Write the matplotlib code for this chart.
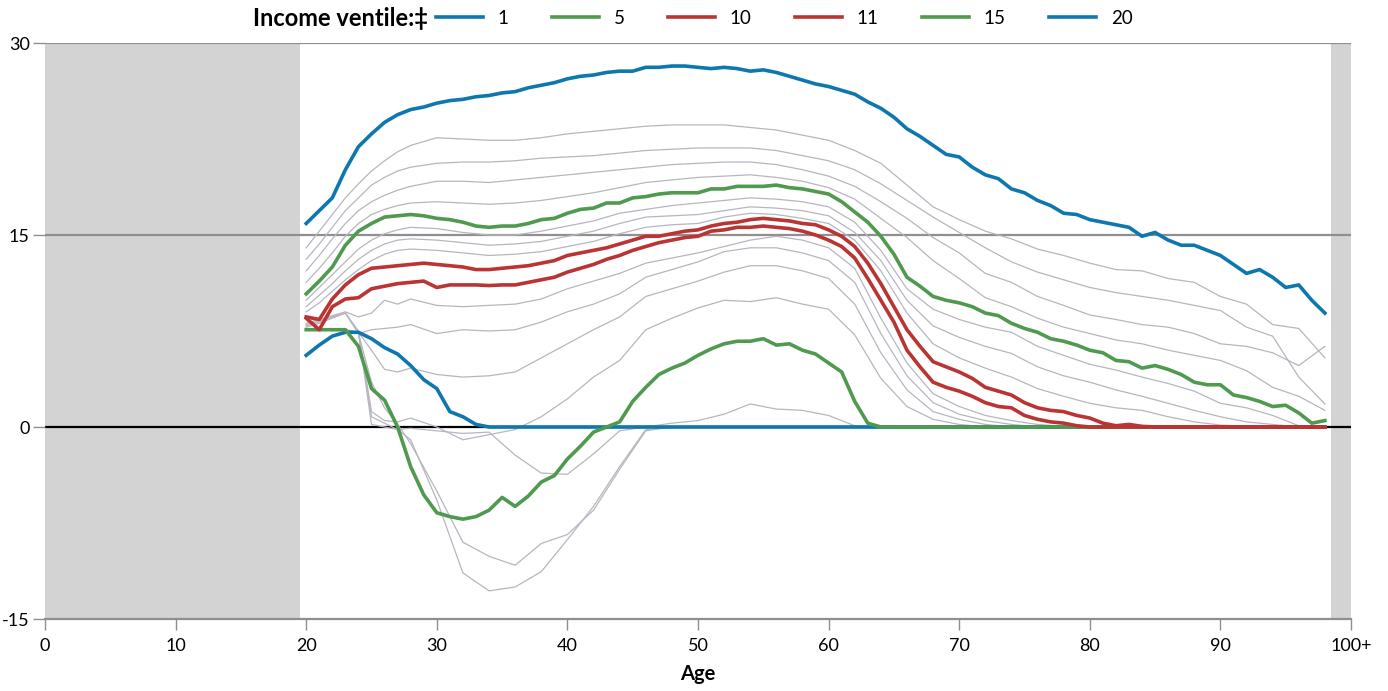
import matplotlib
matplotlib.use("Agg")
import matplotlib.pyplot as plt

plt.rcParams['font.family'] = ['Lato', 'DejaVu Sans']
plt.rcParams['axes.unicode_minus'] = False

# highlighted ventiles, one value per year of age
ages = [20, 21, 22, 23, 24, 25, 26, 27, 28, 29, 30, 31, 32, 33, 34, 35, 36, 37, 38, 39,
        40, 41, 42, 43, 44, 45, 46, 47, 48, 49, 50, 51, 52, 53, 54, 55, 56, 57, 58, 59,
        60, 61, 62, 63, 64, 65, 66, 67, 68, 69, 70, 71, 72, 73, 74, 75, 76, 77, 78, 79,
        80, 81, 82, 83, 84, 85, 86, 87, 88, 89, 90, 91, 92, 93, 94, 95, 96, 97, 98]

v1 = [5.6, 6.4, 7.1, 7.4, 7.4, 6.9, 6.2, 5.7, 4.8, 3.7, 3.0, 1.2, 0.8, 0.2, 0.0, 0.0, 0.0, 0.0, 0.0, 0.0,
      0.0, 0.0, 0.0, 0.0, 0.0, 0.0, 0.0, 0.0, 0.0, 0.0, 0.0, 0.0, 0.0, 0.0, 0.0, 0.0, 0.0, 0.0, 0.0, 0.0,
      0.0, 0.0, 0.0, 0.0, 0.0, 0.0, 0.0, 0.0, 0.0, 0.0, 0.0, 0.0, 0.0, 0.0, 0.0, 0.0, 0.0, 0.0, 0.0, 0.0,
      0.0, 0.0, 0.0, 0.0, 0.0, 0.0, 0.0, 0.0, 0.0, 0.0, 0.0, 0.0, 0.0, 0.0, 0.0, 0.0, 0.0, 0.0, 0.0]
v5 = [7.6, 7.6, 7.6, 7.6, 6.3, 3.0, 2.1, 0.0, -3.1, -5.3, -6.7, -7.0, -7.2, -7.0, -6.5, -5.5, -6.2, -5.4, -4.3, -3.8,
      -2.5, -1.5, -0.4, 0.0, 0.4, 2.0, 3.1, 4.1, 4.6, 5.0, 5.6, 6.1, 6.5, 6.7, 6.7, 6.9, 6.4, 6.5, 6.0, 5.7,
      5.0, 4.3, 2.0, 0.3, 0.0, 0.0, 0.0, 0.0, 0.0, 0.0, 0.0, 0.0, 0.0, 0.0, 0.0, 0.0, 0.0, 0.0, 0.0, 0.0,
      0.0, 0.0, 0.0, 0.0, 0.0, 0.0, 0.0, 0.0, 0.0, 0.0, 0.0, 0.0, 0.0, 0.0, 0.0, 0.0, 0.0, 0.0, 0.0]
v10 = [8.5, 7.6, 9.4, 10.0, 10.1, 10.8, 11.0, 11.2, 11.3, 11.4, 10.9, 11.1, 11.1, 11.1, 11.05, 11.1, 11.1, 11.3, 11.5, 11.7,
       12.1, 12.4, 12.7, 13.1, 13.4, 13.8, 14.1, 14.4, 14.6, 14.8, 14.9, 15.3, 15.4, 15.6, 15.6, 15.7, 15.6, 15.5, 15.3, 15.0,
       14.6, 14.1, 13.2, 11.6, 9.9, 8.2, 6.0, 4.7, 3.5, 3.1, 2.8, 2.4, 1.9, 1.6, 1.5, 0.9, 0.6, 0.4, 0.3, 0.1,
       0.0, 0.0, 0.0, 0.0, 0.0, 0.0, 0.0, 0.0, 0.0, 0.0, 0.0, 0.0, 0.0, 0.0, 0.0, 0.0, 0.0, 0.0, 0.0]
v11 = [8.6, 8.4, 10.0, 11.1, 11.9, 12.4, 12.5, 12.6, 12.7, 12.8, 12.7, 12.6, 12.5, 12.3, 12.3, 12.4, 12.5, 12.6, 12.8, 13.0,
       13.4, 13.6, 13.8, 14.0, 14.3, 14.6, 14.9, 14.9, 15.1, 15.3, 15.4, 15.7, 15.9, 16.0, 16.2, 16.3, 16.2, 16.1, 15.9, 15.8,
       15.4, 14.9, 14.1, 12.8, 11.2, 9.4, 7.6, 6.3, 5.1, 4.7, 4.3, 3.8, 3.1, 2.8, 2.5, 1.9, 1.5, 1.3, 1.2, 0.9,
       0.7, 0.3, 0.1, 0.2, 0.05, 0.0, 0.0, 0.0, 0.0, 0.0, 0.0, 0.0, 0.0, 0.0, 0.0, 0.0, 0.0, 0.0, 0.0]
v15 = [10.4, 11.4, 12.5, 14.2, 15.3, 15.9, 16.4, 16.5, 16.6, 16.5, 16.3, 16.2, 16.0, 15.7, 15.6, 15.7, 15.7, 15.9, 16.2, 16.3,
       16.7, 17.0, 17.1, 17.5, 17.5, 17.9, 18.0, 18.2, 18.3, 18.3, 18.3, 18.6, 18.6, 18.8, 18.8, 18.8, 18.9, 18.7, 18.6, 18.4,
       18.2, 17.6, 16.8, 16.0, 14.9, 13.5, 11.7, 11.0, 10.2, 9.9, 9.7, 9.4, 8.9, 8.7, 8.1, 7.7, 7.4, 6.9, 6.7, 6.4,
       6.0, 5.8, 5.2, 5.1, 4.6, 4.8, 4.5, 4.1, 3.5, 3.3, 3.3, 2.5, 2.3, 2.0, 1.6, 1.7, 1.1, 0.3, 0.5]
v20 = [15.9, 16.9, 17.9, 20.1, 21.9, 22.9, 23.8, 24.4, 24.8, 25.0, 25.3, 25.5, 25.6, 25.8, 25.9, 26.1, 26.2, 26.5, 26.7, 26.9,
       27.2, 27.4, 27.5, 27.7, 27.8, 27.8, 28.1, 28.1, 28.2, 28.2, 28.1, 28.0, 28.1, 28.0, 27.8, 27.9, 27.7, 27.4, 27.1, 26.8,
       26.6, 26.3, 26.0, 25.4, 24.9, 24.2, 23.3, 22.7, 22.0, 21.3, 21.1, 20.3, 19.7, 19.4, 18.6, 18.3, 17.7, 17.3, 16.7, 16.6,
       16.2, 16.0, 15.8, 15.6, 14.9, 15.2, 14.6, 14.2, 14.2, 13.8, 13.4, 12.7, 12.0, 12.3, 11.7, 10.9, 11.1, 9.9, 8.9]

# other ventiles (thin grey), read at a coarser age grid
grey_ages = [20, 21, 22, 23, 24, 25, 26, 27, 28, 30, 32, 34, 36, 38, 40, 42, 44, 46, 48, 50, 52, 54,
             56, 58, 60, 62, 64, 66, 68, 70, 72, 74, 76, 78, 80, 82, 84, 86, 88, 90, 92, 94, 96, 98]

v2 = [7.6, 7.6, 7.6, 7.6, 7.4, 0.8, 0.3, -0.2, -1.0, -5.7, -11.4, -12.8, -12.5, -11.3, -8.8, -6.2, -3.1, -0.2, 0.0, 0.0, 0.0, 0.0,
      0.0, 0.0, 0.0, 0.0, 0.0, 0.0, 0.0, 0.0, 0.0, 0.0, 0.0, 0.0, 0.0, 0.0, 0.0, 0.0, 0.0, 0.0, 0.0, 0.0, 0.0, 0.0]
v3 = [7.6, 7.6, 7.6, 7.6, 7.3, 3.5, 1.5, 0.2, -1.3, -5.0, -9.0, -10.1, -10.8, -9.1, -8.4, -6.5, -3.3, -0.3, 0.0, 0.0, 0.0, 0.0,
      0.0, 0.0, 0.0, 0.0, 0.0, 0.0, 0.0, 0.0, 0.0, 0.0, 0.0, 0.0, 0.0, 0.0, 0.0, 0.0, 0.0, 0.0, 0.0, 0.0, 0.0, 0.0]
v4 = [7.6, 7.6, 7.6, 7.6, 7.4, 0.2, 0.0, -0.2, -0.1, -0.3, -0.5, -0.4, -2.2, -3.6, -3.7, -2.1, -0.3, 0.0, 0.3, 0.5, 1.0, 1.8,
      1.4, 1.3, 0.9, 0.1, 0.0, 0.0, 0.0, 0.0, 0.0, 0.0, 0.0, 0.0, 0.0, 0.0, 0.0, 0.0, 0.0, 0.0, 0.0, 0.0, 0.0, 0.0]
v6 = [7.8, 8.1, 8.5, 8.9, 7.5, 1.2, 0.5, 0.4, 0.7, 0.0, -1.0, -0.6, -0.2, 0.8, 2.2, 3.9, 5.2, 7.6, 8.5, 9.3, 9.9, 9.8,
      10.1, 9.6, 9.2, 7.2, 3.8, 1.6, 0.6, 0.2, 0.0, 0.0, 0.0, 0.0, 0.0, 0.0, 0.0, 0.0, 0.0, 0.0, 0.0, 0.0, 0.0, 0.0]
v7 = [7.9, 8.2, 8.6, 8.9, 7.4, 6.0, 4.5, 4.3, 4.6, 4.1, 3.9, 4.0, 4.3, 5.4, 6.5, 7.6, 8.6, 10.2, 10.8, 11.4, 12.1, 12.6,
      12.6, 12.2, 11.6, 9.6, 5.8, 2.9, 1.2, 0.6, 0.2, 0.0, 0.0, 0.0, 0.0, 0.0, 0.0, 0.0, 0.0, 0.0, 0.0, 0.0, 0.0, 0.0]
v8 = [8.0, 8.3, 8.6, 8.9, 7.3, 7.6, 7.7, 7.8, 8.0, 7.3, 7.6, 7.5, 7.6, 8.2, 9.0, 9.6, 10.4, 11.7, 12.3, 12.9, 13.7, 14.0,
      14.0, 13.6, 13.0, 11.3, 7.3, 4.0, 1.9, 1.0, 0.5, 0.2, 0.0, 0.0, 0.0, 0.0, 0.0, 0.0, 0.0, 0.0, 0.0, 0.0, 0.0, 0.0]
v9 = [8.1, 8.4, 8.7, 9.0, 8.6, 8.9, 9.9, 9.6, 10.0, 9.5, 9.4, 9.5, 9.6, 10.0, 10.8, 11.4, 12.0, 12.8, 13.2, 13.6, 14.1, 14.6,
      14.9, 14.6, 14.0, 12.4, 8.5, 5.0, 2.6, 1.6, 0.9, 0.5, 0.2, 0.05, 0.0, 0.0, 0.0, 0.0, 0.0, 0.0, 0.0, 0.0, 0.0, 0.0]
v12 = [9.0, 9.7, 10.6, 11.5, 12.3, 13.0, 13.5, 13.8, 13.9, 13.8, 13.6, 13.4, 13.5, 13.7, 14.1, 14.5, 15.1, 15.6, 15.8, 15.9, 16.4, 16.7,
       16.6, 16.3, 15.9, 14.6, 12.2, 8.9, 6.5, 5.4, 4.6, 3.9, 3.0, 2.4, 1.85, 1.5, 1.3, 0.8, 0.4, 0.15, 0.05, 0.0, 0.0, 0.0]
v13 = [9.4, 10.3, 11.2, 12.2, 13.1, 13.8, 14.3, 14.6, 14.7, 14.6, 14.4, 14.2, 14.3, 14.5, 14.9, 15.3, 15.9, 16.4, 16.5, 16.6, 16.9, 17.2,
       17.1, 16.9, 16.5, 15.2, 13.0, 9.9, 7.9, 7.0, 6.3, 5.75, 4.7, 4.0, 3.5, 2.9, 2.4, 1.85, 1.3, 0.8, 0.4, 0.2, 0.0, 0.0]
v14 = [9.9, 10.9, 11.9, 12.9, 13.9, 14.6, 15.1, 15.4, 15.6, 15.5, 15.2, 15.0, 15.0, 15.3, 15.7, 16.1, 16.7, 17.0, 17.3, 17.5, 17.7, 17.9,
       17.8, 17.6, 17.2, 16.0, 13.8, 10.8, 9.2, 8.4, 7.8, 7.4, 6.3, 5.6, 4.9, 4.45, 3.9, 3.4, 2.8, 1.85, 1.5, 0.9, 0.1, 0.0]
v16 = [11.3, 12.4, 13.6, 14.9, 15.9, 16.6, 17.0, 17.3, 17.5, 17.6, 17.5, 17.4, 17.5, 17.7, 18.0, 18.3, 18.7, 19.1, 19.3, 19.5, 19.6, 19.7,
       19.5, 19.2, 18.7, 17.8, 16.3, 14.8, 13.0, 11.6, 10.1, 9.4, 8.5, 7.8, 7.3, 6.8, 6.5, 6.0, 5.6, 5.2, 4.4, 3.1, 2.4, 1.3]
v17 = [12.2, 13.4, 14.7, 15.9, 16.9, 17.6, 18.1, 18.5, 18.8, 19.2, 19.2, 19.1, 19.3, 19.5, 19.7, 19.9, 20.1, 20.3, 20.5, 20.6, 20.7, 20.7,
       20.5, 20.1, 19.6, 18.8, 17.6, 16.3, 14.8, 13.6, 12.0, 11.3, 10.2, 9.5, 8.75, 8.4, 8.0, 7.8, 7.3, 6.5, 6.3, 5.8, 4.8, 6.3]
v18 = [13.1, 14.3, 15.6, 16.9, 17.9, 18.9, 19.5, 20.0, 20.3, 20.6, 20.7, 20.7, 20.8, 21.0, 21.1, 21.2, 21.4, 21.6, 21.7, 21.8, 21.8, 21.8,
       21.6, 21.2, 20.8, 20.1, 19.0, 17.7, 16.4, 15.2, 14.0, 12.9, 12.1, 11.5, 10.9, 10.5, 10.2, 9.9, 9.5, 9.1, 7.8, 7.1, 3.9, 1.8]
v19 = [14.0, 15.3, 16.6, 17.9, 19.0, 20.0, 20.8, 21.5, 22.0, 22.6, 22.5, 22.4, 22.4, 22.6, 22.9, 23.1, 23.3, 23.5, 23.6, 23.6, 23.6, 23.4,
       23.2, 22.8, 22.4, 21.6, 20.6, 18.9, 17.2, 16.2, 15.3, 14.7, 13.9, 13.4, 12.8, 12.3, 12.2, 11.6, 11.3, 10.2, 9.6, 8.0, 7.7, 5.4]

BLUE = '#0e78ae'
GREEN = '#4f9a4f'
RED = '#bb3434'
GREY_LINE = '#b6b6c0'
SHADE = '#d3d3d3'
GRID = '#8f8f8f'

W, H = 1388, 691
fig = plt.figure(figsize=(W / 100, H / 100), dpi=100)
ax = fig.add_axes([45 / W, 1 - 619 / H, (1351 - 45) / W, (619 - 43) / H])

ax.axvspan(0, 19.5, color=SHADE, lw=0, zorder=0)
ax.axvspan(98.5, 100, color=SHADE, lw=0, zorder=0)
for yy in (15, 30):
    ax.axhline(yy, color=GRID, lw=1.6, zorder=1)
ax.axhline(0, color='black', lw=1.6, zorder=1)

for g in (v2, v3, v4, v6, v7, v8, v9, v12, v13, v14, v16, v17, v18, v19):
    ax.plot(grey_ages, g, color=GREY_LINE, lw=0.9, zorder=2)

handles = []
for vals, col, lab in ((v1, BLUE, '1'), (v5, GREEN, '5'), (v10, RED, '10'),
                       (v11, RED, '11'), (v15, GREEN, '15'), (v20, BLUE, '20')):
    ln, = ax.plot(ages, vals, color=col, lw=2.6, zorder=3, label=lab,
                  solid_joinstyle='round')
    handles.append(ln)

ax.set_xlim(0, 100)
ax.set_ylim(-15, 30)
ax.set_xticks(range(0, 101, 10))
ax.set_xticklabels(['0', '10', '20', '30', '40', '50', '60', '70', '80', '90', '100+'])
ax.set_yticks([-15, 0, 15, 30])
for s in ('left', 'right', 'top'):
    ax.spines[s].set_visible(False)
ax.spines['bottom'].set_color(GRID)
ax.spines['bottom'].set_linewidth(1.6)
ax.tick_params(axis='x', direction='out', length=8, width=1, color=GRID,
               labelsize=13, pad=6)
ax.tick_params(axis='y', direction='out', length=9, width=1, color=GRID,
               labelsize=13, pad=2)
ax.set_xlabel('Age', fontsize=14.5, fontweight='bold', labelpad=7)

fig.text(428 / W, 1 - 18 / H, 'Income ventile:\u2021', ha='right', va='center',
         fontsize=17, fontweight='bold')
fig.legend(handles=handles, loc='center left', bbox_to_anchor=(436 / W, 1 - 18 / H),
           ncol=6, frameon=False, fontsize=13.5, handlelength=2.5,
           handletextpad=0.8, columnspacing=2.3, borderaxespad=0, borderpad=0)

fig.savefig('out.png', dpi=100)
